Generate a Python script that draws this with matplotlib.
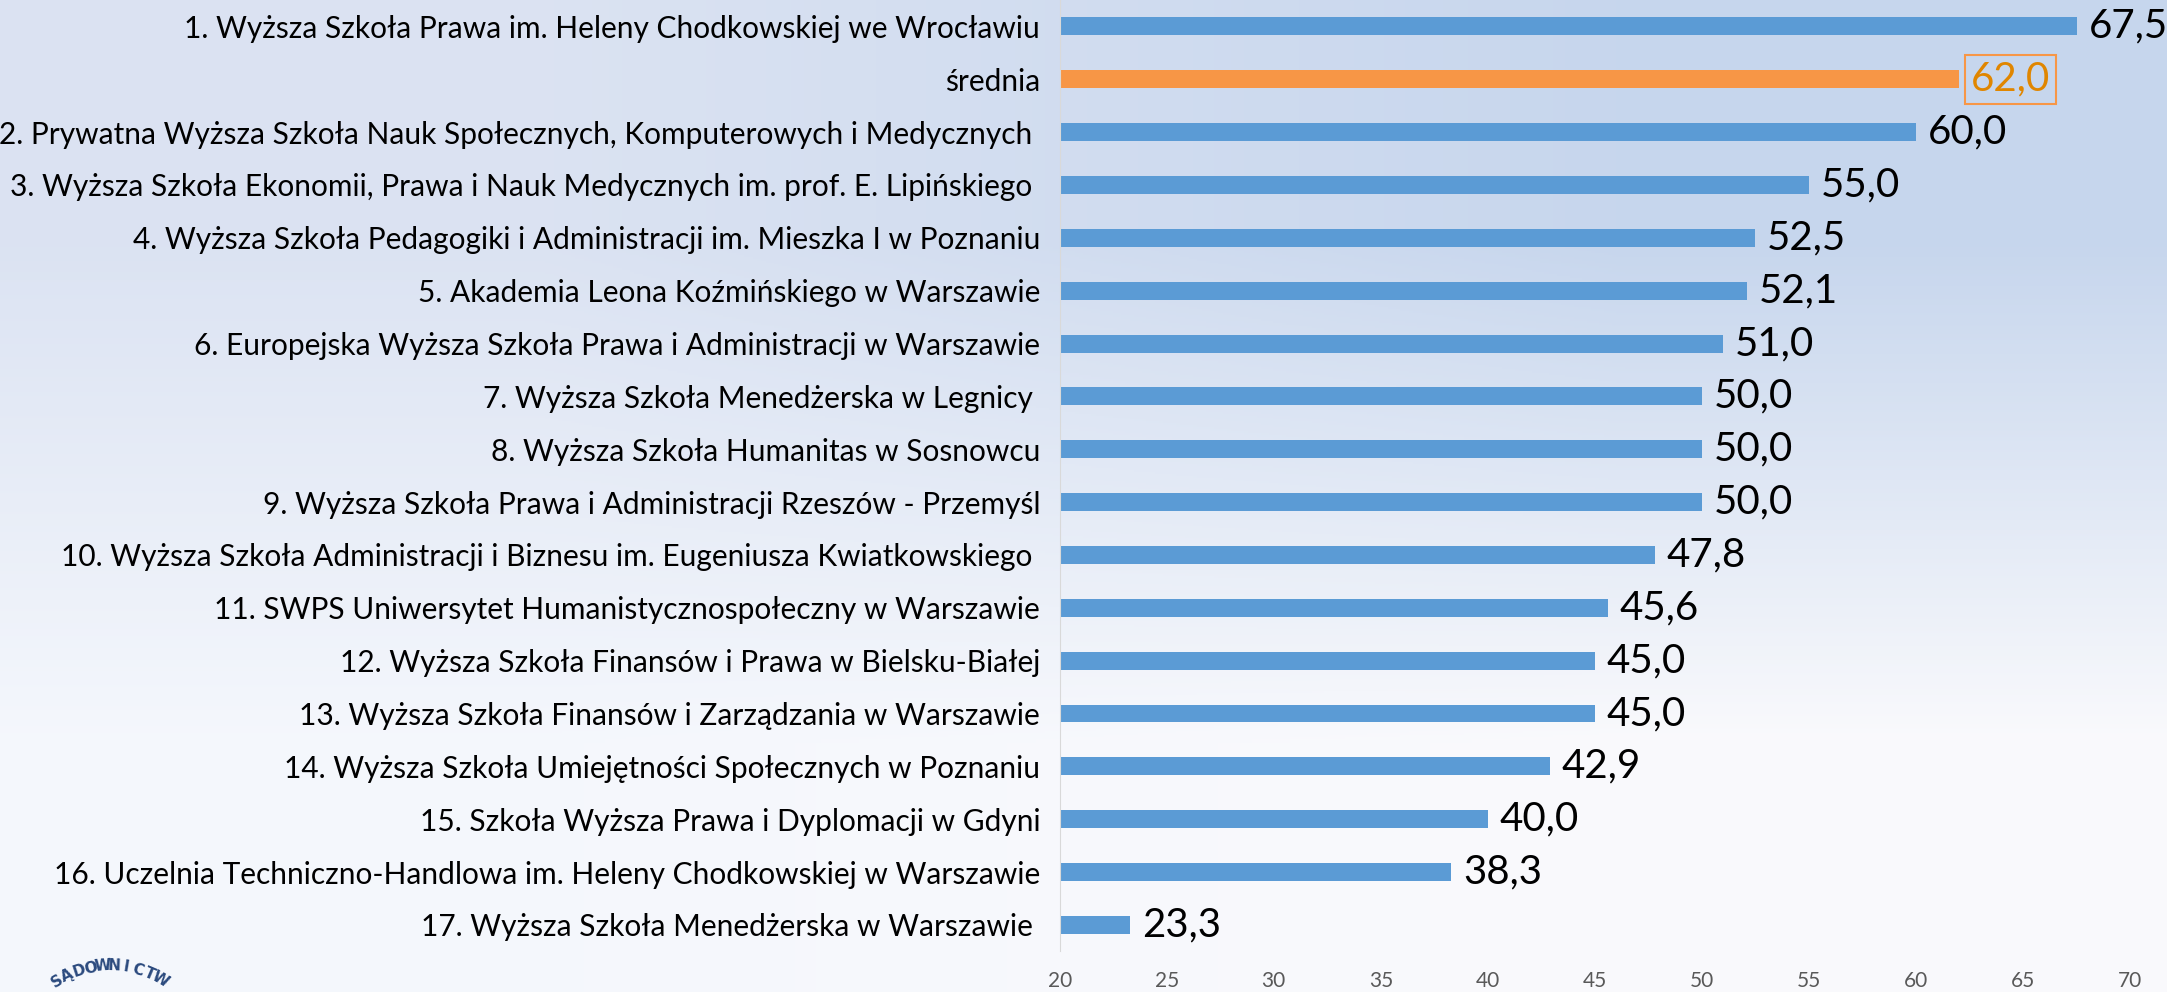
import numpy as np
import matplotlib
matplotlib.use("Agg")
import matplotlib.pyplot as plt

plt.rcParams['font.family'] = ['Lato', 'DejaVu Sans']

# dane z wykresu (od góry)
labels = [
    "1. Wyższa Szkoła Prawa im. Heleny Chodkowskiej we Wrocławiu",
    "średnia",
    "2. Prywatna Wyższa Szkoła Nauk Społecznych, Komputerowych i Medycznych ",
    "3. Wyższa Szkoła Ekonomii, Prawa i Nauk Medycznych im. prof. E. Lipińskiego ",
    "4. Wyższa Szkoła Pedagogiki i Administracji im. Mieszka I w Poznaniu",
    "5. Akademia Leona Koźmińskiego w Warszawie",
    "6. Europejska Wyższa Szkoła Prawa i Administracji w Warszawie",
    "7. Wyższa Szkoła Menedżerska w Legnicy ",
    "8. Wyższa Szkoła Humanitas w Sosnowcu",
    "9. Wyższa Szkoła Prawa i Administracji Rzeszów - Przemyśl",
    "10. Wyższa Szkoła Administracji i Biznesu im. Eugeniusza Kwiatkowskiego ",
    "11. SWPS Uniwersytet Humanistycznospołeczny w Warszawie",
    "12. Wyższa Szkoła Finansów i Prawa w Bielsku-Białej",
    "13. Wyższa Szkoła Finansów i Zarządzania w Warszawie",
    "14. Wyższa Szkoła Umiejętności Społecznych w Poznaniu",
    "15. Szkoła Wyższa Prawa i Dyplomacji w Gdyni",
    "16. Uczelnia Techniczno-Handlowa im. Heleny Chodkowskiej w Warszawie",
    "17. Wyższa Szkoła Menedżerska w Warszawie ",
]
values = [67.5, 62.0, 60.0, 55.0, 52.5, 52.1, 51.0, 50.0, 50.0, 50.0,
          47.8, 45.6, 45.0, 45.0, 42.9, 40.0, 38.3, 23.3]
avg_idx = 1
xticks = [20, 25, 30, 35, 40, 45, 50, 55, 60, 65, 70]

blue = "#5B9BD5"
orange = "#F79646"

fig = plt.figure(figsize=(21.67, 9.92), dpi=100)

# tło z gradientem
bg = fig.add_axes([0, 0, 1, 1], zorder=-10)
corners = np.array([[[0.86, 0.89, 0.95], [0.78, 0.84, 0.93]],
                    [[0.96, 0.97, 0.99], [0.98, 0.98, 0.99]]])
bg.imshow(corners, aspect='auto', interpolation='bilinear', extent=[0, 1, 0, 1])
bg.axis('off')

ax = fig.add_axes([0.489, 0.041, 0.494, 0.959])
ax.patch.set_alpha(0)

y = np.arange(len(values))[::-1]
colors = [orange if i == avg_idx else blue for i in range(len(values))]
ax.barh(y, [v - 20 for v in values], left=20, height=0.34, color=colors)

ax.set_xlim(20, 70)
ax.set_ylim(-0.5, len(values) - 0.5)
ax.set_yticks(y)
ax.set_yticklabels(labels, fontsize=21.5)
ax.set_xticks(xticks)
ax.set_xticklabels([str(t) for t in xticks], fontsize=15, color="#595959")
ax.tick_params(axis='both', length=0)
ax.tick_params(axis='y', pad=14)
ax.tick_params(axis='x', pad=14)
for s in ['top', 'right', 'bottom']:
    ax.spines[s].set_visible(False)
ax.spines['left'].set_color("#D9D9D9")

for i, (yy, v) in enumerate(zip(y, values)):
    txt = f"{v:.1f}".replace(".", ",")
    if i == avg_idx:
        ax.text(v + 0.55, yy, txt, va='center', ha='left', fontsize=29, color="#E08600",
                bbox=dict(boxstyle='square,pad=0.15', fc='none', ec=orange, lw=1.5))
    else:
        ax.text(v + 0.55, yy, txt, va='center', ha='left', fontsize=29, color='black')

# fragment logo w lewym dolnym rogu
logo = "SĄDOWNICTW"
cx, cy, r = 110, 1066, 100
angles = np.linspace(122, 60, len(logo))
for ch, a in zip(logo, angles):
    px = cx + r * np.cos(np.radians(a))
    py = cy - r * np.sin(np.radians(a))
    fig.text(px / 2167, 1 - py / 992, ch, fontsize=11, fontweight='bold', color="#2B4A7E",
             rotation=a - 90, ha='center', va='center', family='DejaVu Sans')

fig.savefig("out.png", dpi=100)
